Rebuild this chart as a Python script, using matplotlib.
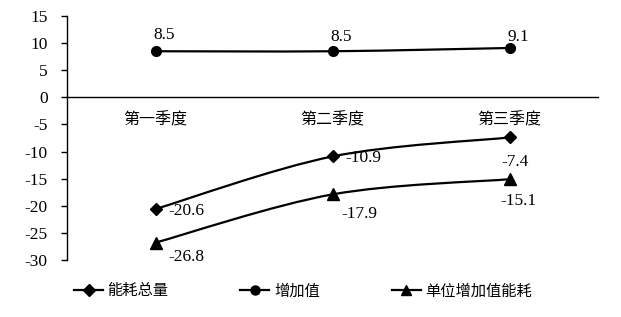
import matplotlib

matplotlib.use("Agg")
import matplotlib.pyplot as plt
from matplotlib.lines import Line2D
from matplotlib.patches import PathPatch
from matplotlib.path import Path

plt.rcParams["font.family"] = ["Noto Sans CJK SC", "DejaVu Sans"]
plt.rcParams["axes.unicode_minus"] = False

quarters = ["第一季度", "第二季度", "第三季度"]
series_names = ["能耗总量", "增加值", "单位增加值能耗"]
energy_total = [-20.6, -10.9, -7.4]
added_value = [8.5, 8.5, 9.1]
unit_energy = [-26.8, -17.9, -15.1]
y_ticks = [-30, -25, -20, -15, -10, -5, 0, 5, 10, 15]

markers = ["D", "o", "^"]
marker_sizes = [6.5, 7, 8]
# label offsets in points, relative to each point
label_offsets = [
    [(22, -1.5), (22, -1), (4, -18)],
    [(6, 12), (6.5, 10), (6.5, 8)],
    [(22, -10), (19, -14), (6.5, -16)],
]
num_font = "Liberation Serif"


def smooth_path(xs, ys):
    # Excel-like smoothed line: cubic Bezier through every point
    pts = list(zip(xs, ys))
    verts = [pts[0]]
    codes = [Path.MOVETO]
    n = len(pts)
    for i in range(n - 1):
        p0 = pts[max(i - 1, 0)]
        p1 = pts[i]
        p2 = pts[i + 1]
        p3 = pts[min(i + 2, n - 1)]
        c1 = (p1[0] + (p2[0] - p0[0]) / 6, p1[1] + (p2[1] - p0[1]) / 6)
        c2 = (p2[0] - (p3[0] - p1[0]) / 6, p2[1] - (p3[1] - p1[1]) / 6)
        verts += [c1, c2, p2]
        codes += [Path.CURVE4] * 3
    return Path(verts, codes)


fig = plt.figure(figsize=(6.21, 3.17), dpi=100)
ax = fig.add_axes([67 / 621, 1 - 260 / 317, 531 / 621, 244 / 317])

x = list(range(len(quarters)))
all_series = [energy_total, added_value, unit_energy]
handles = []
for vals, name, mk, ms, offs in zip(all_series, series_names, markers, marker_sizes, label_offsets):
    ax.add_patch(PathPatch(smooth_path(x, vals), fill=False, lw=1.6, edgecolor="black"))
    ax.plot(x, vals, linestyle="none", marker=mk, markersize=ms, color="black", zorder=3)
    for xi, v, off in zip(x, vals, offs):
        ax.annotate(f"{v}", (xi, v), xytext=off, textcoords="offset points",
                    ha="center", va="center", fontsize=12.5, family=num_font)
    handles.append(Line2D([], [], color="black", lw=1.6, marker=mk, markersize=ms - 0.5))

ax.set_xlim(-0.5, 2.5)
ax.set_ylim(-30, 15)
ax.tick_params(axis="y", direction="out", length=4, width=1, pad=10, labelsize=12.5)
ax.tick_params(axis="x", length=0, pad=10, labelsize=11.5)
ax.set_yticks(y_ticks)
ax.set_yticklabels([str(t) for t in y_ticks], family=num_font)
ax.set_xticks(x)
ax.set_xticklabels(quarters)

ax.spines["top"].set_visible(False)
ax.spines["right"].set_visible(False)
ax.spines["bottom"].set_position(("data", 0))
ax.spines["left"].set_linewidth(1)
ax.spines["bottom"].set_linewidth(1)

fig.legend(handles, series_names, loc="center left", bbox_to_anchor=(74 / 621, 1 - 291 / 317),
           ncol=3, frameon=False, fontsize=11, handlelength=1.9, handletextpad=0.3,
           columnspacing=4.7, borderpad=0, borderaxespad=0)

fig.savefig("out.png", dpi=100)
